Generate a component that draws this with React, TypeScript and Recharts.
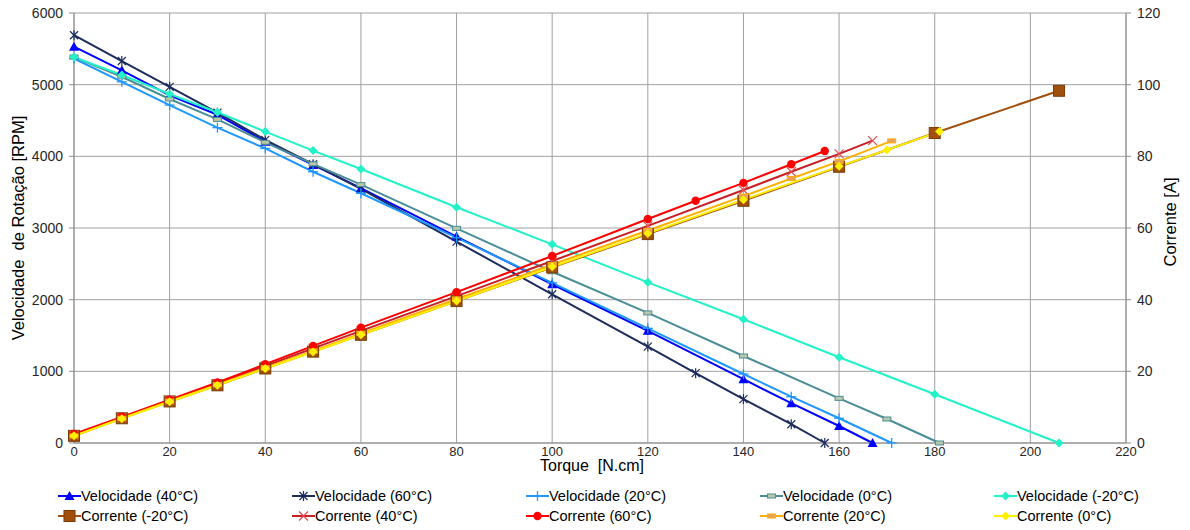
import React from 'react';
import { LineChart, Line, XAxis, YAxis, CartesianGrid } from 'recharts';

const FONT = '"Liberation Sans", Arial, sans-serif';

// Torque axis ticks [N.cm] and value axes ticks
const torqueTicks = [0, 20, 40, 60, 80, 100, 120, 140, 160, 180, 200, 220];
const rpmTicks = [0, 1000, 2000, 3000, 4000, 5000, 6000];
const ampTicks = [0, 20, 40, 60, 80, 100, 120];

// Rotation speed [RPM] vs torque, per temperature
const vel40Torque = [0, 10, 20, 30, 40, 50, 60, 80, 100, 120, 140, 150, 160, 167];
const vel40Rpm = [5530, 5200, 4850, 4580, 4205, 3880, 3555, 2880, 2215, 1565, 890, 555, 237, 0];

const vel60Torque = [0, 10, 20, 30, 40, 50, 60, 80, 100, 120, 130, 140, 150, 157];
const vel60Rpm = [5690, 5330, 4970, 4610, 4230, 3890, 3545, 2810, 2075, 1345, 975, 612, 262, 0];

const vel20Torque = [0, 10, 20, 30, 40, 50, 60, 80, 100, 120, 140, 150, 160, 171];
const vel20Rpm = [5365, 5040, 4715, 4400, 4110, 3785, 3485, 2865, 2235, 1600, 963, 646, 345, 0];

const vel0Torque = [0, 10, 20, 30, 40, 50, 60, 80, 100, 120, 140, 160, 170, 181];
const vel0Rpm = [5385, 5110, 4800, 4515, 4195, 3895, 3605, 2995, 2390, 1815, 1214, 623, 335, 0];

const velM20Torque = [0, 10, 20, 30, 40, 50, 60, 80, 100, 120, 140, 160, 180, 206];
const velM20Rpm = [5385, 5135, 4870, 4615, 4345, 4080, 3823, 3290, 2772, 2242, 1726, 1196, 680, 0];

// Current [A] vs torque, per temperature
const corM20Torque = [0, 10, 20, 30, 40, 50, 60, 80, 100, 120, 140, 160, 180, 206];
const corM20Amp = [2.0, 6.9, 11.6, 16.1, 20.8, 25.5, 30.2, 39.6, 49.0, 58.3, 67.6, 77.1, 86.5, 98.3];

const cor40Torque = [0, 10, 20, 30, 40, 50, 60, 80, 100, 120, 140, 150, 160, 167];
const cor40Amp = [2.2, 7.1, 11.9, 16.6, 21.5, 26.4, 31.3, 41.0, 50.8, 60.6, 70.6, 75.7, 80.7, 84.4];

const cor60Torque = [0, 10, 20, 30, 40, 50, 60, 80, 100, 120, 130, 140, 150, 157];
const cor60Amp = [2.5, 7.3, 12.1, 16.9, 22.0, 27.1, 32.2, 42.1, 52.2, 62.5, 67.6, 72.6, 77.8, 81.5];

const cor20Torque = [0, 10, 20, 30, 40, 50, 60, 80, 100, 120, 140, 150, 160, 171];
const cor20Amp = [2.0, 6.9, 11.7, 16.3, 21.0, 25.7, 30.6, 40.2, 49.8, 59.3, 68.9, 73.8, 78.6, 84.3];

const cor0Torque = [0, 10, 20, 30, 40, 50, 60, 80, 100, 120, 140, 160, 170, 181];
const cor0Amp = [2.0, 6.8, 11.5, 16.1, 20.8, 25.4, 30.2, 39.6, 49.2, 58.5, 67.9, 77.2, 81.8, 86.9];

type Marker = 'triangle' | 'star' | 'plus' | 'dash' | 'diamond' | 'square' | 'cross' | 'circle';

interface Series {
  name: string;
  torque: number[];
  values: number[];
  axis: 'rpm' | 'amp';
  color: string;
  marker: Marker;
  fill?: string;
}

const series: Series[] = [
  { name: 'Velocidade (40°C)', torque: vel40Torque, values: vel40Rpm, axis: 'rpm', color: '#0000ff', marker: 'triangle' },
  { name: 'Velocidade (60°C)', torque: vel60Torque, values: vel60Rpm, axis: 'rpm', color: '#1c2c5c', marker: 'star' },
  { name: 'Velocidade (20°C)', torque: vel20Torque, values: vel20Rpm, axis: 'rpm', color: '#1e98ff', marker: 'plus' },
  { name: 'Velocidade (0°C)', torque: vel0Torque, values: vel0Rpm, axis: 'rpm', color: '#4a8e98', marker: 'dash', fill: '#b8c8a8' },
  { name: 'Velocidade (-20°C)', torque: velM20Torque, values: velM20Rpm, axis: 'rpm', color: '#22f2c8', marker: 'diamond' },
  { name: 'Corrente (-20°C)', torque: corM20Torque, values: corM20Amp, axis: 'amp', color: '#a0500c', marker: 'square' },
  { name: 'Corrente (40°C)', torque: cor40Torque, values: cor40Amp, axis: 'amp', color: '#c81e24', marker: 'cross' },
  { name: 'Corrente (60°C)', torque: cor60Torque, values: cor60Amp, axis: 'amp', color: '#ff0000', marker: 'circle' },
  { name: 'Corrente (20°C)', torque: cor20Torque, values: cor20Amp, axis: 'amp', color: '#ffb000', marker: 'dash', fill: '#e8a060' },
  { name: 'Corrente (0°C)', torque: cor0Torque, values: cor0Amp, axis: 'amp', color: '#fff000', marker: 'diamond' },
];

function markerShape(s: Series, x: number, y: number) {
  const c = s.color;
  switch (s.marker) {
    case 'triangle':
      return <polygon points={`${x},${y - 5} ${x + 5},${y + 4} ${x - 5},${y + 4}`} fill={c} />;
    case 'star':
      return (
        <g stroke={c} strokeWidth={1.2}>
          <line x1={x - 4} y1={y - 4} x2={x + 4} y2={y + 4} />
          <line x1={x - 4} y1={y + 4} x2={x + 4} y2={y - 4} />
          <line x1={x} y1={y - 5} x2={x} y2={y + 5} />
        </g>
      );
    case 'plus':
      return (
        <g stroke={c} strokeWidth={1.3}>
          <line x1={x - 5} y1={y} x2={x + 5} y2={y} />
          <line x1={x} y1={y - 5} x2={x} y2={y + 5} />
        </g>
      );
    case 'dash':
      return <rect x={x - 4} y={y - 2} width={8} height={4} fill={s.fill} stroke={c} strokeWidth={1} />;
    case 'diamond':
      return <polygon points={`${x},${y - 4.5} ${x + 4.5},${y} ${x},${y + 4.5} ${x - 4.5},${y}`} fill={c} />;
    case 'square':
      return <rect x={x - 5.5} y={y - 5.5} width={11} height={11} fill={c} stroke="#7a3a06" strokeWidth={1} />;
    case 'cross':
      return (
        <g stroke="#e05050" strokeWidth={1.2}>
          <line x1={x - 4.5} y1={y - 4.5} x2={x + 4.5} y2={y + 4.5} />
          <line x1={x - 4.5} y1={y + 4.5} x2={x + 4.5} y2={y - 4.5} />
        </g>
      );
    case 'circle':
    default:
      return <circle cx={x} cy={y} r={4.2} fill={c} />;
  }
}

const dotRenderer = (s: Series) => (props: any) => {
  const { cx, cy, index } = props;
  const key = `${s.name}-${index}`;
  if (cx == null || cy == null) return <g key={key} />;
  return <g key={key}>{markerShape(s, cx, cy)}</g>;
};

const tickStyle = { fontSize: 14, fill: '#262626', fontFamily: FONT };
const xTickStyle = { fontSize: 13, fill: '#262626', fontFamily: FONT };

function LegendItem({ s }: { s: Series }) {
  return (
    <div style={{ display: 'flex', alignItems: 'center', width: 234 }}>
      <svg width={23} height={14} style={{ flex: 'none' }}>
        <line x1={0} y1={7} x2={23} y2={7} stroke={s.color} strokeWidth={2} />
        {markerShape(s, 11.5, 7)}
      </svg>
      <span style={{ fontSize: 14.5, color: '#000', whiteSpace: 'nowrap' }}>{s.name}</span>
    </div>
  );
}

export default function App() {
  const rows = [series.slice(0, 5), series.slice(5, 10)];
  return (
    <div style={{ position: 'absolute', left: 0, top: 0, width: 1190, height: 530, background: '#fff', fontFamily: FONT }}>
      <LineChart width={1190} height={530} margin={{ top: 13, right: 10, bottom: 0, left: 8 }}>
        <CartesianGrid yAxisId="rpm" stroke="#a0a0a0" strokeWidth={1} verticalValues={torqueTicks} />
        <XAxis
          type="number"
          dataKey="x"
          domain={[0, 220]}
          ticks={torqueTicks}
          allowDuplicatedCategory={false}
          height={87}
          tickLine={false}
          tickMargin={-2}
          stroke="#8c8c8c"
          tick={xTickStyle}
          interval={0}
        />
        <YAxis
          yAxisId="rpm"
          domain={[0, 6000]}
          ticks={rpmTicks}
          width={66}
          tickSize={5}
          tickMargin={6}
          stroke="#8c8c8c"
          tick={tickStyle}
          interval={0}
        />
        <YAxis
          yAxisId="amp"
          orientation="right"
          domain={[0, 120]}
          ticks={ampTicks}
          width={54}
          tickSize={5}
          tickMargin={6}
          stroke="#8c8c8c"
          tick={tickStyle}
          interval={0}
        />
        {series.map((s) => (
          <Line
            key={s.name}
            name={s.name}
            yAxisId={s.axis}
            data={s.torque.map((t, i) => ({ x: t, y: s.values[i] }))}
            dataKey="y"
            type="linear"
            stroke={s.color}
            strokeWidth={2}
            dot={dotRenderer(s)}
            activeDot={false}
            isAnimationActive={false}
          />
        ))}
      </LineChart>

      {/* axis titles */}
      <div
        style={{
          position: 'absolute', left: 18, top: 228, fontSize: 16.5, color: '#000', whiteSpace: 'pre',
          transform: 'translate(-50%, -50%) rotate(-90deg)',
        }}
      >
        {'Velocidade  de Rotação [RPM]'}
      </div>
      <div
        style={{
          position: 'absolute', left: 1170, top: 222, fontSize: 16.5, color: '#000', whiteSpace: 'pre',
          transform: 'translate(-50%, -50%) rotate(-90deg)',
        }}
      >
        {'Corrente [A]'}
      </div>
      <div
        style={{
          position: 'absolute', left: 592, top: 466, fontSize: 16, color: '#000', whiteSpace: 'pre',
          transform: 'translate(-50%, -50%)', lineHeight: '18px',
        }}
      >
        {'Torque  [N.cm]'}
      </div>

      {/* legend, two rows of five */}
      <div style={{ position: 'absolute', left: 58, top: 486 }}>
        {rows.map((row, r) => (
          <div key={r} style={{ display: 'flex', height: 20 }}>
            {row.map((s) => (
              <LegendItem key={s.name} s={s} />
            ))}
          </div>
        ))}
      </div>
    </div>
  );
}
